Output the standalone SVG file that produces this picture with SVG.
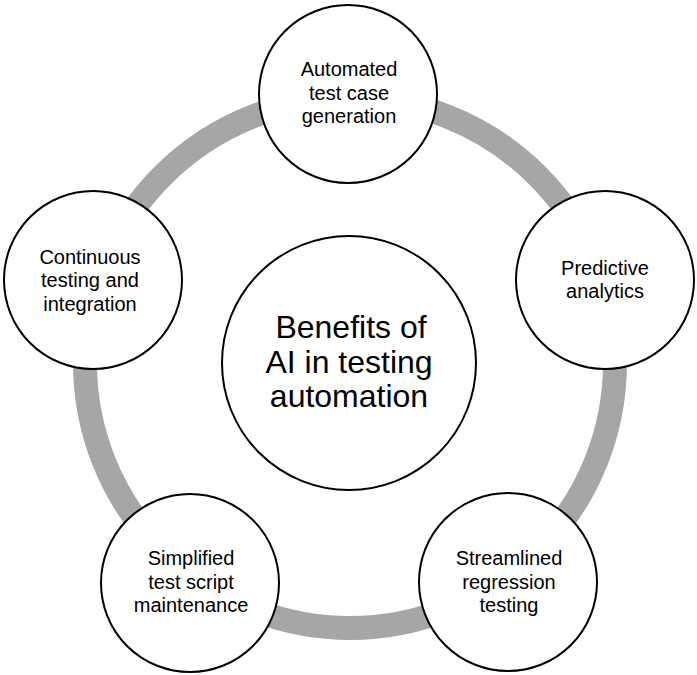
<svg xmlns="http://www.w3.org/2000/svg" width="697" height="675" viewBox="0 0 697 675">
<style>
.node{fill:#ffffff;stroke:#000000;stroke-width:2}
.t{font-family:"Liberation Sans",Arial,sans-serif;font-size:20px;fill:#000000;text-anchor:middle}
.tc{font-family:"Liberation Sans",Arial,sans-serif;font-size:32px;fill:#000000;text-anchor:middle}
.ring{fill:none;stroke:#a6a6a6;stroke-width:24}
</style>
<rect width="697" height="675" fill="#ffffff"/>
<g id="connectors">
<circle class="ring" cx="350" cy="363" r="265"/>
</g>
<g id="center">
<circle class="node" cx="349" cy="363" r="127"/>
<text class="tc"><tspan x="351" y="338">Benefits of</tspan><tspan x="349" y="373">AI in testing</tspan><tspan x="349" y="407">automation</tspan></text>
</g>
<g id="n1">
<circle class="node" cx="348" cy="94" r="89"/>
<text class="t"><tspan x="349" y="76">Automated</tspan><tspan x="349" y="99.5">test case</tspan><tspan x="349" y="123">generation</tspan></text>
</g>
<g id="n2">
<circle class="node" cx="605" cy="280" r="89"/>
<text class="t"><tspan x="605" y="275">Predictive</tspan><tspan x="605" y="297.5">analytics</tspan></text>
</g>
<g id="n3">
<circle class="node" cx="508" cy="582" r="89"/>
<text class="t"><tspan x="509" y="565">Streamlined</tspan><tspan x="509" y="588.5">regression</tspan><tspan x="509" y="612">testing</tspan></text>
</g>
<g id="n4">
<circle class="node" cx="190" cy="583" r="89"/>
<text class="t"><tspan x="191" y="565">Simplified</tspan><tspan x="191" y="588.5">test script</tspan><tspan x="191" y="612">maintenance</tspan></text>
</g>
<g id="n5">
<circle class="node" cx="93" cy="280" r="89"/>
<text class="t"><tspan x="90" y="263.5">Continuous</tspan><tspan x="90" y="287">testing and</tspan><tspan x="90" y="310.5">integration</tspan></text>
</g>
</svg>
